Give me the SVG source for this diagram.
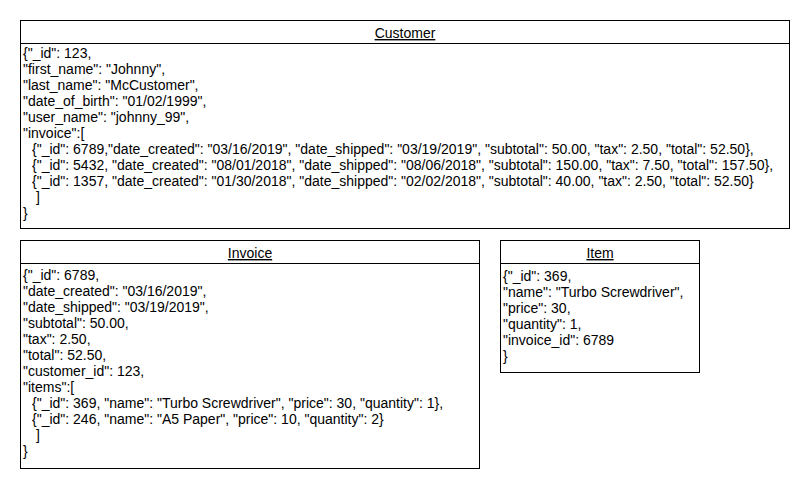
<svg xmlns="http://www.w3.org/2000/svg" width="810" height="490" viewBox="0 0 810 490">
<style>
.box{fill:#fff;stroke:#000;stroke-width:1}
.t{font-family:"Liberation Sans",Arial,sans-serif;font-size:14px;fill:#000}
.h{font-family:"Liberation Sans",Arial,sans-serif;font-size:14px;fill:#000;text-anchor:middle;text-decoration:underline}
</style>
<rect width="810" height="490" fill="#fff"/>
<g id="customer">
<rect class="box" x="20.5" y="20.5" width="769" height="208"/>
<line x1="20.5" y1="43.5" x2="789.5" y2="43.5" stroke="#000"/>
<text class="h" x="405" y="38">Customer</text>
<text class="t" x="23" y="58">{"_id": 123,</text>
<text class="t" x="23" y="74">"first_name": "Johnny",</text>
<text class="t" x="23" y="90">"last_name": "McCustomer",</text>
<text class="t" x="23" y="106">"date_of_birth": "01/02/1999",</text>
<text class="t" x="23" y="122">"user_name": "johnny_99",</text>
<text class="t" x="23" y="138">"invoice":[</text>
<text class="t" x="32" y="154">{"_id": 6789,"date_created": "03/16/2019", "date_shipped": "03/19/2019", "subtotal": 50.00, "tax": 2.50, "total": 52.50},</text>
<text class="t" x="32" y="170">{"_id": 5432, "date_created": "08/01/2018", "date_shipped": "08/06/2018", "subtotal": 150.00, "tax": 7.50, "total": 157.50},</text>
<text class="t" x="32" y="186">{"_id": 1357, "date_created": "01/30/2018", "date_shipped": "02/02/2018", "subtotal": 40.00, "tax": 2.50, "total": 52.50}</text>
<text class="t" x="36" y="202">]</text>
<text class="t" x="23" y="218">}</text>
</g>
<g id="invoice">
<rect class="box" x="20.5" y="240.5" width="459" height="228"/>
<line x1="20.5" y1="263.5" x2="479.5" y2="263.5" stroke="#000"/>
<text class="h" x="250" y="258">Invoice</text>
<text class="t" x="23" y="280">{"_id": 6789,</text>
<text class="t" x="23" y="296">"date_created": "03/16/2019",</text>
<text class="t" x="23" y="312">"date_shipped": "03/19/2019",</text>
<text class="t" x="23" y="328">"subtotal": 50.00,</text>
<text class="t" x="23" y="344">"tax": 2.50,</text>
<text class="t" x="23" y="360">"total": 52.50,</text>
<text class="t" x="23" y="376">"customer_id": 123,</text>
<text class="t" x="23" y="392">"items":[</text>
<text class="t" x="32" y="408">{"_id": 369, "name": "Turbo Screwdriver", "price": 30, "quantity": 1},</text>
<text class="t" x="32" y="424">{"_id": 246, "name": "A5 Paper", "price": 10, "quantity": 2}</text>
<text class="t" x="36" y="440">]</text>
<text class="t" x="23" y="456">}</text>
</g>
<g id="item">
<rect class="box" x="500.5" y="240.5" width="199" height="132"/>
<line x1="500.5" y1="263.5" x2="699.5" y2="263.5" stroke="#000"/>
<text class="h" x="600" y="258">Item</text>
<text class="t" x="503" y="281">{"_id": 369,</text>
<text class="t" x="503" y="297">"name": "Turbo Screwdriver",</text>
<text class="t" x="503" y="313">"price": 30,</text>
<text class="t" x="503" y="329">"quantity": 1,</text>
<text class="t" x="503" y="345">"invoice_id": 6789</text>
<text class="t" x="503" y="361">}</text>
</g>
<g id="connectors"></g>
</svg>
